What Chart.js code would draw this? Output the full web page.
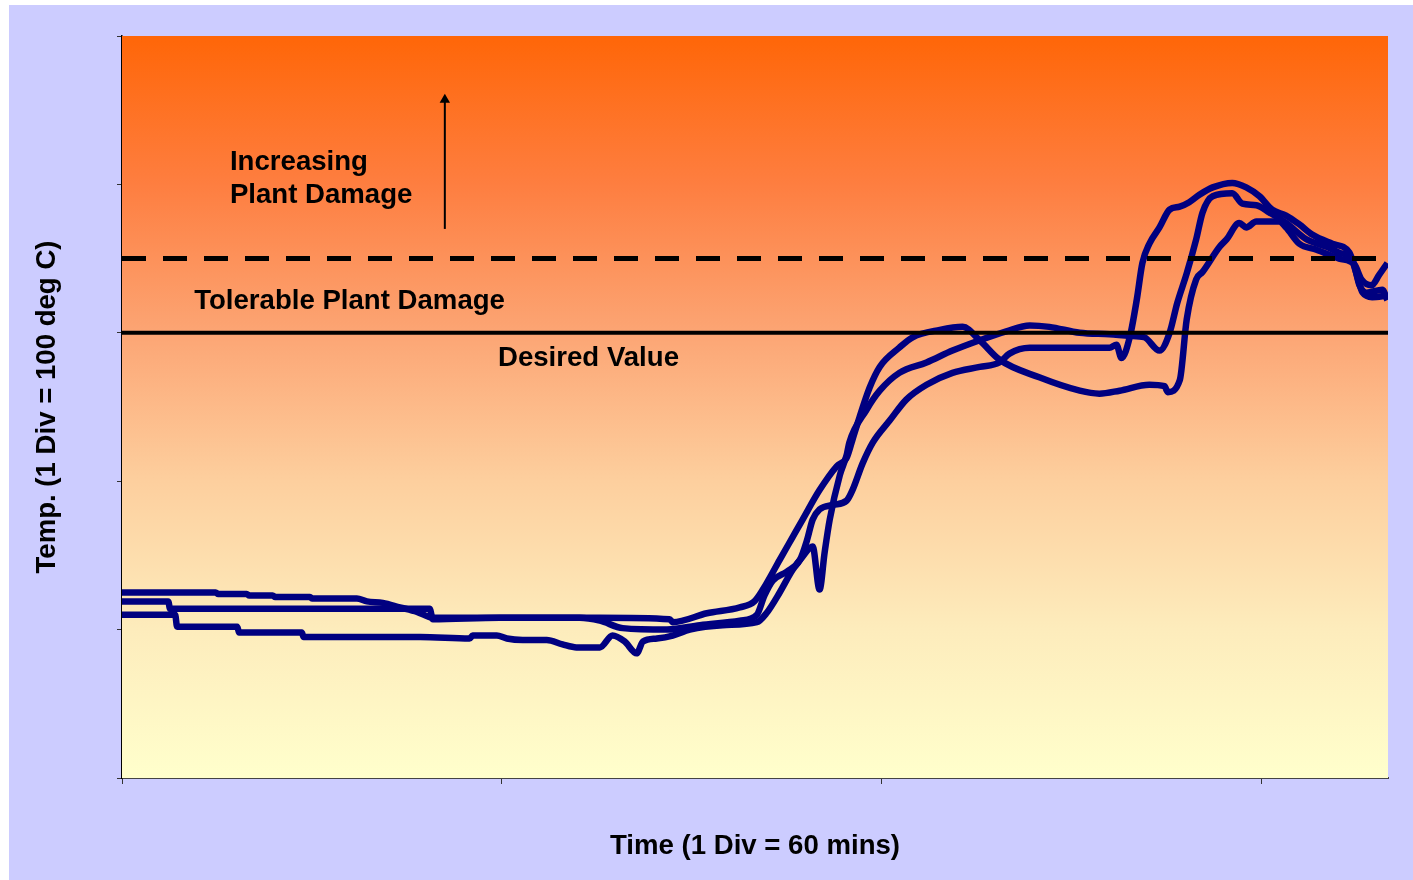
<!DOCTYPE html>
<html>
<head>
    <title>Temperature vs Time</title>
    <script src="https://cdn.jsdelivr.net/npm/chart.js"></script>
    <style>
        body {
            margin: 0;
            background: #ffffff;
        }
        .frame {
            position: absolute;
            left: 9px;
            top: 5px;
            width: 1404px;
            height: 875px;
            background: #ccccff;
        }
    </style>
</head>
<body>
    <div class="frame">
        <canvas id="tempChart" width="1404" height="875"></canvas>
    </div>

    <script>
        // Run 1 (minutes, deg C)
        const run1Time = [0, 14.8, 15.2, 19.7, 20.1, 23.8, 24.2, 29.7, 30.0, 37.1, 38.7, 41.2, 43.9, 46.6, 49.1, 59.7, 75.5, 86.5, 87.0, 92.4, 97.6, 99.9, 101.8, 103.9, 105.9, 107.5, 110.2, 112.9, 114.5, 115.4, 116.5, 118.1, 119.7, 122.8, 124.9, 129.2, 132.8, 135.5, 138.6, 144.9, 151.3, 154.4, 157.6, 162.3, 164.7, 165.2, 167.1, 168.2, 169.7, 170.7, 173.4, 174.5, 176.5, 177.6, 179.2, 182.8, 183.9, 186.0, 188.7, 192.3, 194.7, 195.8, 197.4, 198.6, 199.9];
        const run1Temp = [125, 125, 124, 124, 123, 123, 122, 122, 121, 121, 119, 118, 115, 112, 108, 108, 108, 107, 105, 111, 115, 119, 131, 147, 162, 174, 194, 210, 216, 228, 243, 263, 277, 290, 297, 302, 304, 295, 282, 270, 261, 259, 261, 265, 264, 260, 268, 309, 336, 341, 358, 363, 374, 371, 375, 375, 371, 360, 356, 350, 346, 336, 332, 339, 347];

        // Run 2
        const run2Time = [0, 8.4, 8.7, 18.2, 18.5, 28.4, 28.7, 47.1, 54.9, 55.4, 59.2, 60.8, 63.3, 67.1, 69.6, 71.8, 75.5, 77.5, 79.4, 81.3, 82.3, 84.5, 87.0, 89.7, 94.9, 100.3, 101.8, 103.9, 105.9, 107.5, 109.1, 110.2, 111.0, 111.8, 113.4, 114.5, 114.9, 117.6, 119.7, 122.8, 127.1, 131.2, 135.5, 139.7, 143.4, 146.5, 151.3, 156.0, 159.2, 161.5, 163.9, 165.5, 166.7, 168.2, 169.7, 170.7, 172.3, 175.4, 177.0, 179.2, 181.3, 183.9, 187.1, 190.3, 192.3, 194.4, 195.5, 196.6, 199.1, 199.9];
        const run2Temp = [110, 110, 102, 102, 98, 98, 95, 95, 94, 96, 96, 94, 93, 93, 90, 88, 88, 96, 92, 84, 92, 94, 96, 100, 103, 105, 111, 125, 140, 149, 156, 127, 152, 174, 204, 218, 226, 248, 261, 273, 280, 288, 295, 301, 305, 304, 300, 299, 298, 297, 288, 300, 320, 340, 363, 381, 392, 394, 387, 386, 381, 374, 363, 358, 354, 349, 332, 327, 329, 322];

        // Run 3
        const run3Time = [0, 7.3, 7.6, 48.6, 49.1, 59.7, 72.3, 75.5, 79.1, 86.1, 91.3, 97.6, 100.3, 101.5, 102.8, 105.0, 107.1, 108.2, 109.1, 110.2, 112.3, 114.5, 115.4, 117.0, 118.6, 121.3, 123.9, 127.1, 131.2, 135.5, 138.6, 140.2, 143.4, 146.5, 151.3, 156.0, 157.1, 157.9, 159.2, 160.3, 161.2, 162.3, 163.9, 165.5, 167.1, 168.6, 170.2, 172.3, 175.4, 177.6, 179.7, 181.7, 183.9, 186.0, 188.1, 191.2, 193.9, 195.0, 196.0, 197.5, 199.9];
        const run3Temp = [119, 119, 114, 114, 107, 108, 108, 106, 101, 100, 103, 106, 110, 123, 133, 139, 147, 160, 174, 181, 184, 187, 194, 212, 226, 241, 255, 265, 273, 277, 280, 286, 290, 290, 290, 290, 292, 283, 297, 322, 347, 360, 371, 383, 385, 388, 393, 398, 401, 398, 392, 383, 379, 373, 366, 360, 354, 340, 327, 324, 325];

        // Reference levels
        const desiredValue = 300;
        const damageLimit = 350;
        const timeRange = [0, 200];

        // Arrow (x in minutes, y from/to in deg C)
        const arrowTime = 51.0;
        const arrowTemp = [370, 457];

        // Text notes
        const noteText = ['Increasing', 'Plant Damage', 'Tolerable Plant Damage', 'Desired Value'];
        const noteTime = [17.05, 17.05, 11.4, 59.4];
        const noteTemp = [410, 387.5, 316, 277.6];

        const toPoints = (xs, ys) => xs.map((x, i) => ({ x: x, y: ys[i] }));
        const fontFamily = '"Liberation Sans", Arial, sans-serif';
        const fontSize = 27.6;

        // Gradient behind the plot area
        const plotBackground = {
            id: 'plotBackground',
            beforeDatasetsDraw(chart) {
                const { ctx, chartArea: a } = chart;
                const g = ctx.createLinearGradient(0, a.top, 0, a.bottom);
                g.addColorStop(0, '#ff6608');
                g.addColorStop(0.2, '#fe7e40');
                g.addColorStop(0.4, '#fca574');
                g.addColorStop(0.6, '#fdcf9e');
                g.addColorStop(0.8, '#fdecbc');
                g.addColorStop(1, '#ffffcc');
                ctx.save();
                ctx.fillStyle = g;
                ctx.fillRect(a.left, a.top, a.right - a.left, a.bottom - a.top);
                ctx.restore();
            }
        };

        // Text notes on the plot
        const notes = {
            id: 'notes',
            afterDatasetsDraw(chart) {
                const { ctx, scales } = chart;
                ctx.save();
                ctx.font = 'bold ' + fontSize + 'px ' + fontFamily;
                ctx.fillStyle = '#000000';
                ctx.textBaseline = 'alphabetic';
                noteText.forEach((t, i) => {
                    ctx.fillText(t, scales.x.getPixelForValue(noteTime[i]), scales.y.getPixelForValue(noteTemp[i]));
                });
                ctx.restore();
            }
        };

        const blue = '#000080';
        const run = (xs, ys) => ({
            data: toPoints(xs, ys), showLine: true, borderColor: blue, borderWidth: 6.5,
            pointRadius: 0, borderJoinStyle: 'round', cubicInterpolationMode: 'monotone'
        });

        const tempChart = new Chart(document.getElementById('tempChart').getContext('2d'), {
            type: 'scatter',
            data: {
                datasets: [
                    { data: toPoints(timeRange, [desiredValue, desiredValue]), showLine: true, borderColor: '#000', borderWidth: 4, pointRadius: 0 },
                    { data: toPoints(timeRange, [damageLimit, damageLimit]), showLine: true, borderColor: '#000', borderWidth: 5, borderDash: [24, 17], pointRadius: 0 },
                    { data: toPoints([arrowTime, arrowTime], arrowTemp), showLine: true, borderColor: '#000', borderWidth: 2,
                      pointRadius: [0, 6], pointStyle: 'triangle', pointBackgroundColor: '#000', pointBorderWidth: 0 },
                    run(run1Time, run1Temp),
                    run(run2Time, run2Temp),
                    run(run3Time, run3Temp)
                ]
            },
            options: {
                responsive: false,
                animation: false,
                layout: { padding: { top: 31, right: 25, left: 0, bottom: 0 } },
                plugins: { legend: { display: false }, tooltip: { enabled: false } },
                scales: {
                    x: {
                        type: 'linear', min: 0, max: 200,
                        ticks: { display: false, stepSize: 60 },
                        afterBuildTicks: s => { s.ticks = s.ticks.filter(t => t.value % 60 === 0); },
                        afterFit: s => { s.height = 102; },
                        grid: { drawOnChartArea: false, tickLength: 6, color: '#333' },
                        border: { color: '#444', width: 2 },
                        title: { display: true, text: 'Time (1 Div = 60 mins)', color: '#000',
                                 font: { family: fontFamily, size: fontSize, weight: 'bold' },
                                 padding: { top: 0, bottom: 17 } }
                    },
                    y: {
                        type: 'linear', min: 0, max: 500,
                        ticks: { display: false, stepSize: 100 },
                        afterFit: s => { s.width = 113; },
                        grid: { drawOnChartArea: false, tickLength: 5, color: '#333' },
                        border: { color: '#000', width: 1.5 },
                        title: { display: true, text: 'Temp. (1 Div = 100 deg C)', color: '#000',
                                 font: { family: fontFamily, size: fontSize, weight: 'bold' },
                                 padding: { top: 22, bottom: 0 } }
                    }
                }
            },
            plugins: [plotBackground, notes]
        });
    </script>
</body>
</html>
